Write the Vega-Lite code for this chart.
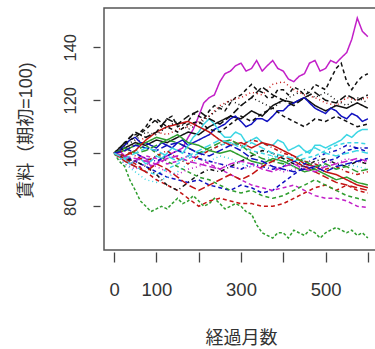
{
"$schema":"https://vega.github.io/schema/vega-lite/v6.json",
"autosize":"none",
"width":274,"height":242,
"padding":{"left":104,"top":8,"right":0,"bottom":99},
"background":"white",
"config":{"view":{"stroke":"#555","strokeWidth":1.5},"axis":{"domain":false,"grid":false,"tickColor":"#444","tickWidth":1.3,"labelColor":"#333","labelFont":"Liberation Sans","titleFont":"Liberation Sans, Noto Sans CJK JP","titleColor":"#333","titleFontWeight":"normal"}},
"data":{"values":[
{"s":"a","m":0,"v":100},{"s":"a","m":25,"v":99},{"s":"a","m":50,"v":97},{"s":"a","m":75,"v":98},{"s":"a","m":100,"v":96},{"s":"a","m":125,"v":99},{"s":"a","m":150,"v":101},{"s":"a","m":175,"v":106},{"s":"a","m":200,"v":114},{"s":"a","m":225,"v":121},{"s":"a","m":250,"v":127},{"s":"a","m":275,"v":131},{"s":"a","m":300,"v":134},{"s":"a","m":325,"v":132},{"s":"a","m":350,"v":131},{"s":"a","m":375,"v":135},{"s":"a","m":400,"v":131},{"s":"a","m":425,"v":127},{"s":"a","m":450,"v":130},{"s":"a","m":475,"v":135},{"s":"a","m":500,"v":132},{"s":"a","m":525,"v":134},{"s":"a","m":550,"v":138},{"s":"a","m":575,"v":151},{"s":"a","m":600,"v":144},
{"s":"b","m":0,"v":100},{"s":"b","m":25,"v":103},{"s":"b","m":50,"v":107},{"s":"b","m":75,"v":110},{"s":"b","m":100,"v":112},{"s":"b","m":125,"v":113},{"s":"b","m":150,"v":110},{"s":"b","m":175,"v":112},{"s":"b","m":200,"v":114},{"s":"b","m":225,"v":116},{"s":"b","m":250,"v":117},{"s":"b","m":275,"v":119},{"s":"b","m":300,"v":122},{"s":"b","m":325,"v":126},{"s":"b","m":350,"v":123},{"s":"b","m":375,"v":121},{"s":"b","m":400,"v":124},{"s":"b","m":425,"v":125},{"s":"b","m":450,"v":122},{"s":"b","m":475,"v":126},{"s":"b","m":500,"v":124},{"s":"b","m":525,"v":132},{"s":"b","m":550,"v":127},{"s":"b","m":575,"v":127},{"s":"b","m":600,"v":130},
{"s":"c","m":0,"v":100},{"s":"c","m":25,"v":101},{"s":"c","m":50,"v":104},{"s":"c","m":75,"v":106},{"s":"c","m":100,"v":108},{"s":"c","m":125,"v":107},{"s":"c","m":150,"v":109},{"s":"c","m":175,"v":110},{"s":"c","m":200,"v":112},{"s":"c","m":225,"v":114},{"s":"c","m":250,"v":118},{"s":"c","m":275,"v":120},{"s":"c","m":300,"v":121},{"s":"c","m":325,"v":123},{"s":"c","m":350,"v":122},{"s":"c","m":375,"v":126},{"s":"c","m":400,"v":127},{"s":"c","m":425,"v":124},{"s":"c","m":450,"v":122},{"s":"c","m":475,"v":121},{"s":"c","m":500,"v":119},{"s":"c","m":525,"v":118},{"s":"c","m":550,"v":121},{"s":"c","m":575,"v":120},{"s":"c","m":600,"v":121},
{"s":"d","m":0,"v":100},{"s":"d","m":25,"v":102},{"s":"d","m":50,"v":104},{"s":"d","m":75,"v":103},{"s":"d","m":100,"v":105},{"s":"d","m":125,"v":104},{"s":"d","m":150,"v":106},{"s":"d","m":175,"v":108},{"s":"d","m":200,"v":107},{"s":"d","m":225,"v":110},{"s":"d","m":250,"v":112},{"s":"d","m":275,"v":114},{"s":"d","m":300,"v":113},{"s":"d","m":325,"v":116},{"s":"d","m":350,"v":114},{"s":"d","m":375,"v":118},{"s":"d","m":400,"v":120},{"s":"d","m":425,"v":119},{"s":"d","m":450,"v":121},{"s":"d","m":475,"v":118},{"s":"d","m":500,"v":116},{"s":"d","m":525,"v":118},{"s":"d","m":550,"v":117},{"s":"d","m":575,"v":119},{"s":"d","m":600,"v":117},
{"s":"e","m":0,"v":100},{"s":"e","m":25,"v":103},{"s":"e","m":50,"v":106},{"s":"e","m":75,"v":104},{"s":"e","m":100,"v":102},{"s":"e","m":125,"v":103},{"s":"e","m":150,"v":104},{"s":"e","m":175,"v":103},{"s":"e","m":200,"v":105},{"s":"e","m":225,"v":107},{"s":"e","m":250,"v":110},{"s":"e","m":275,"v":113},{"s":"e","m":300,"v":112},{"s":"e","m":325,"v":111},{"s":"e","m":350,"v":113},{"s":"e","m":375,"v":114},{"s":"e","m":400,"v":116},{"s":"e","m":425,"v":119},{"s":"e","m":450,"v":121},{"s":"e","m":475,"v":117},{"s":"e","m":500,"v":115},{"s":"e","m":525,"v":116},{"s":"e","m":550,"v":113},{"s":"e","m":575,"v":114},{"s":"e","m":600,"v":113},
{"s":"f","m":0,"v":100},{"s":"f","m":25,"v":98},{"s":"f","m":50,"v":97},{"s":"f","m":75,"v":96},{"s":"f","m":100,"v":99},{"s":"f","m":125,"v":100},{"s":"f","m":150,"v":101},{"s":"f","m":175,"v":103},{"s":"f","m":200,"v":108},{"s":"f","m":225,"v":113},{"s":"f","m":250,"v":108},{"s":"f","m":275,"v":106},{"s":"f","m":300,"v":107},{"s":"f","m":325,"v":105},{"s":"f","m":350,"v":104},{"s":"f","m":375,"v":103},{"s":"f","m":400,"v":104},{"s":"f","m":425,"v":102},{"s":"f","m":450,"v":101},{"s":"f","m":475,"v":103},{"s":"f","m":500,"v":102},{"s":"f","m":525,"v":104},{"s":"f","m":550,"v":107},{"s":"f","m":575,"v":108},{"s":"f","m":600,"v":109},
{"s":"g","m":0,"v":100},{"s":"g","m":25,"v":97},{"s":"g","m":50,"v":95},{"s":"g","m":75,"v":93},{"s":"g","m":100,"v":92},{"s":"g","m":125,"v":94},{"s":"g","m":150,"v":96},{"s":"g","m":175,"v":98},{"s":"g","m":200,"v":100},{"s":"g","m":225,"v":101},{"s":"g","m":250,"v":103},{"s":"g","m":275,"v":104},{"s":"g","m":300,"v":103},{"s":"g","m":325,"v":101},{"s":"g","m":350,"v":100},{"s":"g","m":375,"v":99},{"s":"g","m":400,"v":98},{"s":"g","m":425,"v":97},{"s":"g","m":450,"v":98},{"s":"g","m":475,"v":99},{"s":"g","m":500,"v":101},{"s":"g","m":525,"v":103},{"s":"g","m":550,"v":104},{"s":"g","m":575,"v":104},{"s":"g","m":600,"v":103.5},
{"s":"h","m":0,"v":100},{"s":"h","m":25,"v":99},{"s":"h","m":50,"v":97},{"s":"h","m":75,"v":95},{"s":"h","m":100,"v":93},{"s":"h","m":125,"v":91},{"s":"h","m":150,"v":90},{"s":"h","m":175,"v":89},{"s":"h","m":200,"v":90},{"s":"h","m":225,"v":88},{"s":"h","m":250,"v":87},{"s":"h","m":275,"v":86},{"s":"h","m":300,"v":88},{"s":"h","m":325,"v":87},{"s":"h","m":350,"v":85},{"s":"h","m":375,"v":86},{"s":"h","m":400,"v":89},{"s":"h","m":425,"v":92},{"s":"h","m":450,"v":95},{"s":"h","m":475,"v":94},{"s":"h","m":500,"v":97},{"s":"h","m":525,"v":98},{"s":"h","m":550,"v":101},{"s":"h","m":575,"v":102},{"s":"h","m":600,"v":100.5},
{"s":"i","m":0,"v":100},{"s":"i","m":25,"v":98},{"s":"i","m":50,"v":97},{"s":"i","m":75,"v":99},{"s":"i","m":100,"v":98},{"s":"i","m":125,"v":96},{"s":"i","m":150,"v":97},{"s":"i","m":175,"v":99},{"s":"i","m":200,"v":98},{"s":"i","m":225,"v":96},{"s":"i","m":250,"v":94},{"s":"i","m":275,"v":92},{"s":"i","m":300,"v":90},{"s":"i","m":325,"v":88},{"s":"i","m":350,"v":87},{"s":"i","m":375,"v":86},{"s":"i","m":400,"v":87},{"s":"i","m":425,"v":88},{"s":"i","m":450,"v":86},{"s":"i","m":475,"v":84},{"s":"i","m":500,"v":83},{"s":"i","m":525,"v":83},{"s":"i","m":550,"v":82},{"s":"i","m":575,"v":80},{"s":"i","m":600,"v":79.5},
{"s":"j","m":0,"v":100},{"s":"j","m":25,"v":95},{"s":"j","m":50,"v":86},{"s":"j","m":75,"v":80},{"s":"j","m":100,"v":79},{"s":"j","m":125,"v":79},{"s":"j","m":150,"v":83},{"s":"j","m":175,"v":82},{"s":"j","m":200,"v":82},{"s":"j","m":225,"v":81},{"s":"j","m":250,"v":81},{"s":"j","m":275,"v":80},{"s":"j","m":300,"v":80},{"s":"j","m":325,"v":77},{"s":"j","m":350,"v":70},{"s":"j","m":375,"v":68},{"s":"j","m":400,"v":70},{"s":"j","m":425,"v":71},{"s":"j","m":450,"v":69},{"s":"j","m":475,"v":70},{"s":"j","m":500,"v":70},{"s":"j","m":525,"v":72},{"s":"j","m":550,"v":70},{"s":"j","m":575,"v":69},{"s":"j","m":600,"v":68},
{"s":"k","m":0,"v":100},{"s":"k","m":25,"v":98},{"s":"k","m":50,"v":96},{"s":"k","m":75,"v":93},{"s":"k","m":100,"v":90},{"s":"k","m":125,"v":88},{"s":"k","m":150,"v":86},{"s":"k","m":175,"v":83},{"s":"k","m":200,"v":80},{"s":"k","m":225,"v":82},{"s":"k","m":250,"v":83},{"s":"k","m":275,"v":82},{"s":"k","m":300,"v":81},{"s":"k","m":325,"v":81},{"s":"k","m":350,"v":80},{"s":"k","m":375,"v":80},{"s":"k","m":400,"v":81},{"s":"k","m":425,"v":83},{"s":"k","m":450,"v":85},{"s":"k","m":475,"v":87},{"s":"k","m":500,"v":88},{"s":"k","m":525,"v":86},{"s":"k","m":550,"v":88},{"s":"k","m":575,"v":86},{"s":"k","m":600,"v":85},
{"s":"l","m":0,"v":100},{"s":"l","m":25,"v":99},{"s":"l","m":50,"v":101},{"s":"l","m":75,"v":103},{"s":"l","m":100,"v":100},{"s":"l","m":125,"v":97},{"s":"l","m":150,"v":95},{"s":"l","m":175,"v":93},{"s":"l","m":200,"v":91},{"s":"l","m":225,"v":90},{"s":"l","m":250,"v":88},{"s":"l","m":275,"v":86},{"s":"l","m":300,"v":85},{"s":"l","m":325,"v":86},{"s":"l","m":350,"v":84},{"s":"l","m":375,"v":83},{"s":"l","m":400,"v":84},{"s":"l","m":425,"v":86},{"s":"l","m":450,"v":88},{"s":"l","m":475,"v":90},{"s":"l","m":500,"v":88},{"s":"l","m":525,"v":86},{"s":"l","m":550,"v":84},{"s":"l","m":575,"v":83},{"s":"l","m":600,"v":82},
{"s":"m","m":0,"v":100},{"s":"m","m":25,"v":101},{"s":"m","m":50,"v":103},{"s":"m","m":75,"v":104},{"s":"m","m":100,"v":106},{"s":"m","m":125,"v":105},{"s":"m","m":150,"v":107},{"s":"m","m":175,"v":104},{"s":"m","m":200,"v":103},{"s":"m","m":225,"v":101},{"s":"m","m":250,"v":100},{"s":"m","m":275,"v":101},{"s":"m","m":300,"v":99},{"s":"m","m":325,"v":97},{"s":"m","m":350,"v":96},{"s":"m","m":375,"v":98},{"s":"m","m":400,"v":97},{"s":"m","m":425,"v":95},{"s":"m","m":450,"v":93},{"s":"m","m":475,"v":94},{"s":"m","m":500,"v":92},{"s":"m","m":525,"v":90},{"s":"m","m":550,"v":91},{"s":"m","m":575,"v":89},{"s":"m","m":600,"v":88},
{"s":"n","m":0,"v":100},{"s":"n","m":25,"v":99},{"s":"n","m":50,"v":101},{"s":"n","m":75,"v":105},{"s":"n","m":100,"v":108},{"s":"n","m":125,"v":110},{"s":"n","m":150,"v":111},{"s":"n","m":175,"v":112},{"s":"n","m":200,"v":110},{"s":"n","m":225,"v":108},{"s":"n","m":250,"v":105},{"s":"n","m":275,"v":103},{"s":"n","m":300,"v":104},{"s":"n","m":325,"v":102},{"s":"n","m":350,"v":104},{"s":"n","m":375,"v":103},{"s":"n","m":400,"v":101},{"s":"n","m":425,"v":99},{"s":"n","m":450,"v":96},{"s":"n","m":475,"v":95},{"s":"n","m":500,"v":93},{"s":"n","m":525,"v":92},{"s":"n","m":550,"v":90},{"s":"n","m":575,"v":88},{"s":"n","m":600,"v":87},
{"s":"o","m":0,"v":100},{"s":"o","m":25,"v":104},{"s":"o","m":50,"v":106},{"s":"o","m":75,"v":109},{"s":"o","m":100,"v":113},{"s":"o","m":125,"v":110},{"s":"o","m":150,"v":108},{"s":"o","m":175,"v":111},{"s":"o","m":200,"v":112},{"s":"o","m":225,"v":109},{"s":"o","m":250,"v":108},{"s":"o","m":275,"v":111},{"s":"o","m":300,"v":114},{"s":"o","m":325,"v":112},{"s":"o","m":350,"v":115},{"s":"o","m":375,"v":117},{"s":"o","m":400,"v":114},{"s":"o","m":425,"v":112},{"s":"o","m":450,"v":110},{"s":"o","m":475,"v":113},{"s":"o","m":500,"v":112},{"s":"o","m":525,"v":114},{"s":"o","m":550,"v":112},{"s":"o","m":575,"v":110},{"s":"o","m":600,"v":111},
{"s":"p","m":0,"v":100},{"s":"p","m":25,"v":103},{"s":"p","m":50,"v":105},{"s":"p","m":75,"v":108},{"s":"p","m":100,"v":107},{"s":"p","m":125,"v":110},{"s":"p","m":150,"v":112},{"s":"p","m":175,"v":109},{"s":"p","m":200,"v":111},{"s":"p","m":225,"v":114},{"s":"p","m":250,"v":117},{"s":"p","m":275,"v":120},{"s":"p","m":300,"v":118},{"s":"p","m":325,"v":121},{"s":"p","m":350,"v":119},{"s":"p","m":375,"v":117},{"s":"p","m":400,"v":120},{"s":"p","m":425,"v":122},{"s":"p","m":450,"v":124},{"s":"p","m":475,"v":121},{"s":"p","m":500,"v":123},{"s":"p","m":525,"v":120},{"s":"p","m":550,"v":118},{"s":"p","m":575,"v":121},{"s":"p","m":600,"v":119},
{"s":"q","m":0,"v":100},{"s":"q","m":25,"v":98},{"s":"q","m":50,"v":97},{"s":"q","m":75,"v":95},{"s":"q","m":100,"v":92},{"s":"q","m":125,"v":88},{"s":"q","m":150,"v":86},{"s":"q","m":175,"v":89},{"s":"q","m":200,"v":92},{"s":"q","m":225,"v":94},{"s":"q","m":250,"v":93},{"s":"q","m":275,"v":95},{"s":"q","m":300,"v":97},{"s":"q","m":325,"v":99},{"s":"q","m":350,"v":101},{"s":"q","m":375,"v":100},{"s":"q","m":400,"v":98},{"s":"q","m":425,"v":96},{"s":"q","m":450,"v":95},{"s":"q","m":475,"v":97},{"s":"q","m":500,"v":98},{"s":"q","m":525,"v":96},{"s":"q","m":550,"v":95},{"s":"q","m":575,"v":97},{"s":"q","m":600,"v":96},
{"s":"r","m":0,"v":100},{"s":"r","m":25,"v":96},{"s":"r","m":50,"v":94},{"s":"r","m":75,"v":96},{"s":"r","m":100,"v":95},{"s":"r","m":125,"v":93},{"s":"r","m":150,"v":92},{"s":"r","m":175,"v":94},{"s":"r","m":200,"v":95},{"s":"r","m":225,"v":97},{"s":"r","m":250,"v":96},{"s":"r","m":275,"v":95},{"s":"r","m":300,"v":94},{"s":"r","m":325,"v":95},{"s":"r","m":350,"v":96},{"s":"r","m":375,"v":95},{"s":"r","m":400,"v":93},{"s":"r","m":425,"v":94},{"s":"r","m":450,"v":95},{"s":"r","m":475,"v":96},{"s":"r","m":500,"v":97},{"s":"r","m":525,"v":96},{"s":"r","m":550,"v":98},{"s":"r","m":575,"v":97},{"s":"r","m":600,"v":96.5},
{"s":"s","m":0,"v":100},{"s":"s","m":25,"v":96},{"s":"s","m":50,"v":93},{"s":"s","m":75,"v":90},{"s":"s","m":100,"v":89},{"s":"s","m":125,"v":91},{"s":"s","m":150,"v":93},{"s":"s","m":175,"v":96},{"s":"s","m":200,"v":98},{"s":"s","m":225,"v":97},{"s":"s","m":250,"v":99},{"s":"s","m":275,"v":98},{"s":"s","m":300,"v":96},{"s":"s","m":325,"v":95},{"s":"s","m":350,"v":97},{"s":"s","m":375,"v":99},{"s":"s","m":400,"v":96},{"s":"s","m":425,"v":95},{"s":"s","m":450,"v":97},{"s":"s","m":475,"v":96},{"s":"s","m":500,"v":95},{"s":"s","m":525,"v":94},{"s":"s","m":550,"v":96},{"s":"s","m":575,"v":95},{"s":"s","m":600,"v":94},
{"s":"t","m":0,"v":100},{"s":"t","m":25,"v":102},{"s":"t","m":50,"v":100},{"s":"t","m":75,"v":98},{"s":"t","m":100,"v":97},{"s":"t","m":125,"v":99},{"s":"t","m":150,"v":101},{"s":"t","m":175,"v":100},{"s":"t","m":200,"v":98},{"s":"t","m":225,"v":97},{"s":"t","m":250,"v":96},{"s":"t","m":275,"v":95},{"s":"t","m":300,"v":94},{"s":"t","m":325,"v":96},{"s":"t","m":350,"v":95},{"s":"t","m":375,"v":94},{"s":"t","m":400,"v":95},{"s":"t","m":425,"v":97},{"s":"t","m":450,"v":96},{"s":"t","m":475,"v":98},{"s":"t","m":500,"v":100},{"s":"t","m":525,"v":101},{"s":"t","m":550,"v":103},{"s":"t","m":575,"v":102},{"s":"t","m":600,"v":102},
{"s":"u","m":0,"v":100},{"s":"u","m":25,"v":101},{"s":"u","m":50,"v":99},{"s":"u","m":75,"v":97},{"s":"u","m":100,"v":99},{"s":"u","m":125,"v":101},{"s":"u","m":150,"v":98},{"s":"u","m":175,"v":96},{"s":"u","m":200,"v":99},{"s":"u","m":225,"v":101},{"s":"u","m":250,"v":103},{"s":"u","m":275,"v":105},{"s":"u","m":300,"v":103},{"s":"u","m":325,"v":105},{"s":"u","m":350,"v":104},{"s":"u","m":375,"v":102},{"s":"u","m":400,"v":100},{"s":"u","m":425,"v":99},{"s":"u","m":450,"v":97},{"s":"u","m":475,"v":96},{"s":"u","m":500,"v":94},{"s":"u","m":525,"v":95},{"s":"u","m":550,"v":93},{"s":"u","m":575,"v":92},{"s":"u","m":600,"v":93},
{"s":"v","m":0,"v":100},{"s":"v","m":25,"v":104},{"s":"v","m":50,"v":108},{"s":"v","m":75,"v":106},{"s":"v","m":100,"v":108},{"s":"v","m":125,"v":113},{"s":"v","m":150,"v":111},{"s":"v","m":175,"v":114},{"s":"v","m":200,"v":116},{"s":"v","m":225,"v":113},{"s":"v","m":250,"v":111},{"s":"v","m":275,"v":114},{"s":"v","m":300,"v":118},{"s":"v","m":325,"v":121},{"s":"v","m":350,"v":125},{"s":"v","m":375,"v":122},{"s":"v","m":400,"v":120},{"s":"v","m":425,"v":118},{"s":"v","m":450,"v":121},{"s":"v","m":475,"v":123},{"s":"v","m":500,"v":120},{"s":"v","m":525,"v":119},{"s":"v","m":550,"v":122},{"s":"v","m":575,"v":120},{"s":"v","m":600,"v":122},
{"s":"w","m":0,"v":100},{"s":"w","m":25,"v":102},{"s":"w","m":50,"v":100},{"s":"w","m":75,"v":101},{"s":"w","m":100,"v":103},{"s":"w","m":125,"v":105},{"s":"w","m":150,"v":104},{"s":"w","m":175,"v":102},{"s":"w","m":200,"v":100},{"s":"w","m":225,"v":102},{"s":"w","m":250,"v":104},{"s":"w","m":275,"v":105},{"s":"w","m":300,"v":103},{"s":"w","m":325,"v":100},{"s":"w","m":350,"v":98},{"s":"w","m":375,"v":97},{"s":"w","m":400,"v":96},{"s":"w","m":425,"v":98},{"s":"w","m":450,"v":97},{"s":"w","m":475,"v":95},{"s":"w","m":500,"v":96},{"s":"w","m":525,"v":94},{"s":"w","m":550,"v":95},{"s":"w","m":575,"v":93},{"s":"w","m":600,"v":94},
{"s":"x","m":0,"v":100},{"s":"x","m":25,"v":97},{"s":"x","m":50,"v":95},{"s":"x","m":75,"v":93},{"s":"x","m":100,"v":96},{"s":"x","m":125,"v":94},{"s":"x","m":150,"v":91},{"s":"x","m":175,"v":88},{"s":"x","m":200,"v":86},{"s":"x","m":225,"v":88},{"s":"x","m":250,"v":90},{"s":"x","m":275,"v":92},{"s":"x","m":300,"v":90},{"s":"x","m":325,"v":92},{"s":"x","m":350,"v":95},{"s":"x","m":375,"v":97},{"s":"x","m":400,"v":99},{"s":"x","m":425,"v":97},{"s":"x","m":450,"v":95},{"s":"x","m":475,"v":93},{"s":"x","m":500,"v":91},{"s":"x","m":525,"v":89},{"s":"x","m":550,"v":88},{"s":"x","m":575,"v":87},{"s":"x","m":600,"v":86},
{"s":"y","m":0,"v":100},{"s":"y","m":25,"v":99},{"s":"y","m":50,"v":98},{"s":"y","m":75,"v":97},{"s":"y","m":100,"v":96},{"s":"y","m":125,"v":98},{"s":"y","m":150,"v":99},{"s":"y","m":175,"v":97},{"s":"y","m":200,"v":96},{"s":"y","m":225,"v":95},{"s":"y","m":250,"v":94},{"s":"y","m":275,"v":96},{"s":"y","m":300,"v":97},{"s":"y","m":325,"v":96},{"s":"y","m":350,"v":94},{"s":"y","m":375,"v":93},{"s":"y","m":400,"v":95},{"s":"y","m":425,"v":96},{"s":"y","m":450,"v":94},{"s":"y","m":475,"v":93},{"s":"y","m":500,"v":95},{"s":"y","m":525,"v":96},{"s":"y","m":550,"v":97},{"s":"y","m":575,"v":98},{"s":"y","m":600,"v":97},
{"s":"z","m":0,"v":100},{"s":"z","m":25,"v":101},{"s":"z","m":50,"v":103},{"s":"z","m":75,"v":102},{"s":"z","m":100,"v":101},{"s":"z","m":125,"v":103},{"s":"z","m":150,"v":104},{"s":"z","m":175,"v":102},{"s":"z","m":200,"v":100},{"s":"z","m":225,"v":99},{"s":"z","m":250,"v":101},{"s":"z","m":275,"v":103},{"s":"z","m":300,"v":101},{"s":"z","m":325,"v":98},{"s":"z","m":350,"v":97},{"s":"z","m":375,"v":95},{"s":"z","m":400,"v":94},{"s":"z","m":425,"v":93},{"s":"z","m":450,"v":94},{"s":"z","m":475,"v":95},{"s":"z","m":500,"v":93},{"s":"z","m":525,"v":95},{"s":"z","m":550,"v":96},{"s":"z","m":575,"v":97},{"s":"z","m":600,"v":98},
{"s":"A","m":0,"v":100},{"s":"A","m":25,"v":98},{"s":"A","m":50,"v":100},{"s":"A","m":75,"v":102},{"s":"A","m":100,"v":101},{"s":"A","m":125,"v":99},{"s":"A","m":150,"v":97},{"s":"A","m":175,"v":99},{"s":"A","m":200,"v":101},{"s":"A","m":225,"v":103},{"s":"A","m":250,"v":105},{"s":"A","m":275,"v":104},{"s":"A","m":300,"v":102},{"s":"A","m":325,"v":104},{"s":"A","m":350,"v":102},{"s":"A","m":375,"v":100},{"s":"A","m":400,"v":99},{"s":"A","m":425,"v":98},{"s":"A","m":450,"v":100},{"s":"A","m":475,"v":102},{"s":"A","m":500,"v":100},{"s":"A","m":525,"v":99},{"s":"A","m":550,"v":100},{"s":"A","m":575,"v":101},{"s":"A","m":600,"v":100},
{"s":"a","m":12,"v":101},{"s":"a","m":37,"v":96},{"s":"a","m":62,"v":99},{"s":"a","m":87,"v":95},{"s":"a","m":112,"v":98},{"s":"a","m":137,"v":100},{"s":"a","m":162,"v":102},{"s":"a","m":187,"v":109},{"s":"a","m":212,"v":119},{"s":"a","m":237,"v":122},{"s":"a","m":262,"v":130},{"s":"a","m":287,"v":133},{"s":"a","m":312,"v":131},{"s":"a","m":337,"v":135},{"s":"a","m":362,"v":133},{"s":"a","m":387,"v":132},{"s":"a","m":412,"v":128},{"s":"a","m":437,"v":129},{"s":"a","m":462,"v":134},{"s":"a","m":487,"v":131},{"s":"a","m":512,"v":135},{"s":"a","m":537,"v":136},{"s":"a","m":562,"v":143},{"s":"a","m":587,"v":146},
{"s":"j","m":12,"v":97},{"s":"j","m":37,"v":90},{"s":"j","m":62,"v":82},{"s":"j","m":87,"v":78},{"s":"j","m":112,"v":80},{"s":"j","m":137,"v":81},{"s":"j","m":162,"v":81},{"s":"j","m":187,"v":84},{"s":"j","m":212,"v":80},{"s":"j","m":237,"v":83},{"s":"j","m":262,"v":79},{"s":"j","m":287,"v":81},{"s":"j","m":312,"v":78},{"s":"j","m":337,"v":73},{"s":"j","m":362,"v":69},{"s":"j","m":387,"v":70},{"s":"j","m":412,"v":68},{"s":"j","m":437,"v":70},{"s":"j","m":462,"v":71},{"s":"j","m":487,"v":68},{"s":"j","m":512,"v":71},{"s":"j","m":537,"v":71},{"s":"j","m":562,"v":71},{"s":"j","m":587,"v":70},
{"s":"e","m":12,"v":101},{"s":"e","m":37,"v":105},{"s":"e","m":62,"v":104},{"s":"e","m":87,"v":103},{"s":"e","m":112,"v":104},{"s":"e","m":137,"v":102},{"s":"e","m":162,"v":105},{"s":"e","m":187,"v":104},{"s":"e","m":212,"v":106},{"s":"e","m":237,"v":109},{"s":"e","m":262,"v":111},{"s":"e","m":287,"v":114},{"s":"e","m":312,"v":110},{"s":"e","m":337,"v":113},{"s":"e","m":362,"v":112},{"s":"e","m":387,"v":116},{"s":"e","m":412,"v":118},{"s":"e","m":437,"v":120},{"s":"e","m":462,"v":119},{"s":"e","m":487,"v":116},{"s":"e","m":512,"v":117},{"s":"e","m":537,"v":114},{"s":"e","m":562,"v":115},{"s":"e","m":587,"v":112},
{"s":"b","m":12,"v":102},{"s":"b","m":37,"v":106},{"s":"b","m":62,"v":108},{"s":"b","m":87,"v":113},{"s":"b","m":112,"v":110},{"s":"b","m":137,"v":114},{"s":"b","m":162,"v":111},{"s":"b","m":187,"v":115},{"s":"b","m":212,"v":113},{"s":"b","m":237,"v":118},{"s":"b","m":262,"v":116},{"s":"b","m":287,"v":121},{"s":"b","m":312,"v":124},{"s":"b","m":337,"v":124},{"s":"b","m":362,"v":121},{"s":"b","m":387,"v":124},{"s":"b","m":412,"v":122},{"s":"b","m":437,"v":124},{"s":"b","m":462,"v":123},{"s":"b","m":487,"v":125},{"s":"b","m":512,"v":128},{"s":"b","m":537,"v":134},{"s":"b","m":562,"v":124},{"s":"b","m":587,"v":129},
{"s":"f","m":12,"v":99},{"s":"f","m":37,"v":96},{"s":"f","m":62,"v":98},{"s":"f","m":87,"v":97},{"s":"f","m":112,"v":98},{"s":"f","m":137,"v":102},{"s":"f","m":162,"v":100},{"s":"f","m":187,"v":106},{"s":"f","m":212,"v":111},{"s":"f","m":237,"v":111},{"s":"f","m":262,"v":106},{"s":"f","m":287,"v":108},{"s":"f","m":312,"v":104},{"s":"f","m":337,"v":106},{"s":"f","m":362,"v":103},{"s":"f","m":387,"v":105},{"s":"f","m":412,"v":101},{"s":"f","m":437,"v":103},{"s":"f","m":462,"v":100},{"s":"f","m":487,"v":103},{"s":"f","m":512,"v":103},{"s":"f","m":537,"v":105},{"s":"f","m":562,"v":106},{"s":"f","m":587,"v":109}
]},
"mark":{"type":"line","strokeWidth":1.5,"clip":true},
"encoding":{
"x":{"field":"m","type":"quantitative","scale":{"domain":[-24,624],"nice":false,"zero":false},
"axis":{"values":[0,100,200,300,400,500,600],"labelExpr":"datum.value==200||datum.value==400||datum.value==600?'':datum.label","offset":2,"tickSize":10,"labelFontSize":18.5,"labelPadding":33,"labelBaseline":"alphabetic","labelFlush":false,"labelOverlap":false,"title":"経過月数","titleFontSize":18,"titleBaseline":"alphabetic","titleY":91}},
"y":{"field":"v","type":"quantitative","scale":{"domain":[63.5,154.8],"nice":false,"zero":false},
"axis":{"values":[80,100,120,140],"offset":4,"tickSize":7,"labelFontSize":16.5,"labelAngle":270,"labelAlign":"center","labelBaseline":"alphabetic","labelPadding":18,"labelFlush":false,"labelOverlap":false,"title":"賃料（期初=100)","titleFontSize":18,"titleAngle":270,"titleAlign":"center","titleBaseline":"alphabetic","titleX":-69,"titleY":122}},
"color":{"field":"s","type":"nominal","legend":null,"scale":{"domain":["a","b","c","d","e","f","g","h","i","j","k","l","m","n","o","p","q","r","s","t","u","v","w","x","y","z","A"],"range":["#c21fc8","#111111","#c41414","#111111","#1010c0","#3cd6e4","#3cd6e4","#1010c0","#c21fc8","#2f9e2f","#c41414","#2f9e2f","#2f9e2f","#c41414","#111111","#111111","#111111","#c21fc8","#3cd6e4","#1010c0","#c41414","#111111","#2f9e2f","#c41414","#c21fc8","#1010c0","#3cd6e4"]}},
"strokeDash":{"field":"s","type":"nominal","legend":null,"scale":{"domain":["a","b","c","d","e","f","g","h","i","j","k","l","m","n","o","p","q","r","s","t","u","v","w","x","y","z","A"],"range":[[1,0],[4,3],[1,3],[1,0],[1,0],[1,0],[4,3],[4,3],[4,3],[3,2],[4,3],[4,3],[1,0],[1,0],[4,3],[1,3],[1,3,4,3],[1,3],[1,3],[1,3,4,3],[1,3,4,3],[7,3],[7,3],[7,3],[7,3],[7,3],[7,3]]}}
}
}
